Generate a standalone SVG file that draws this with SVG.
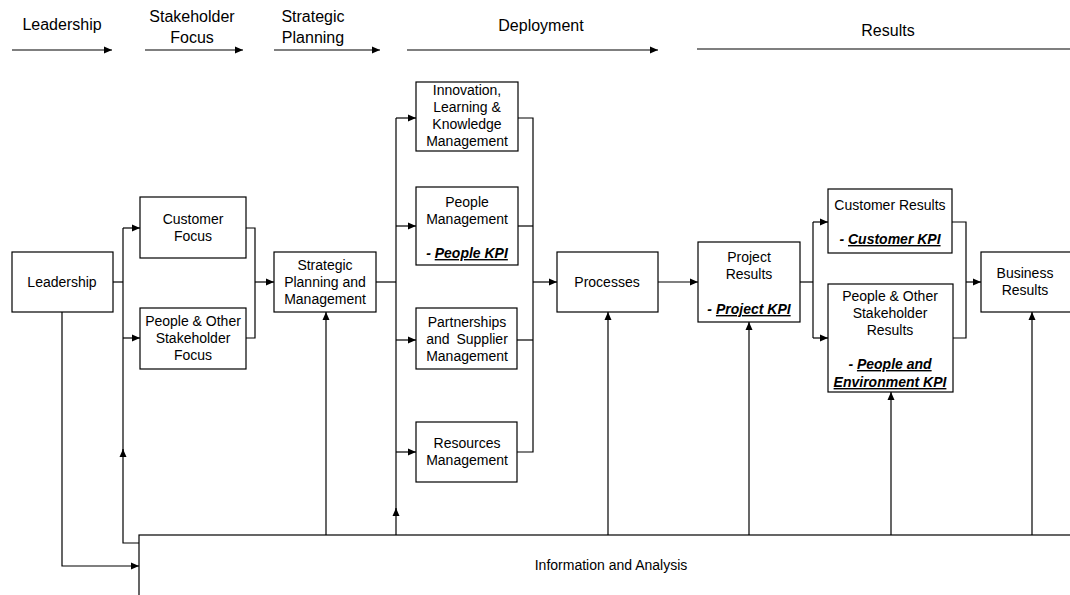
<svg xmlns="http://www.w3.org/2000/svg" width="1070" height="595" viewBox="0 0 1070 595">
<defs>
<marker id="ah" markerUnits="userSpaceOnUse" markerWidth="9" markerHeight="8" refX="8" refY="4" orient="auto">
<path d="M0,0.5 L8,4 L0,7.5 z" fill="#000"/>
</marker>
<style>
.box{fill:#fff;stroke:#000;stroke-width:1.2}
.t{font-family:"Liberation Sans",Arial,sans-serif;font-size:14px;fill:#000;text-anchor:middle}
.h{font-family:"Liberation Sans",Arial,sans-serif;font-size:16px;fill:#000;text-anchor:middle}
.k{font-weight:bold;font-style:italic}
.u{text-decoration:underline}
.c{fill:none;stroke:#000;stroke-width:1.2}
.a{fill:none;stroke:#000;stroke-width:1.2;marker-end:url(#ah)}
</style>
</defs>
<rect width="1070" height="595" fill="#fff"/>

<g id="header">
<text class="h" x="62" y="30">Leadership</text>
<text class="h" x="192" y="22">Stakeholder</text>
<text class="h" x="192" y="43">Focus</text>
<text class="h" x="313" y="22">Strategic</text>
<text class="h" x="313" y="43">Planning</text>
<text class="h" x="541" y="31">Deployment</text>
<text class="h" x="888" y="36">Results</text>
<path class="a" d="M12,50 H112"/>
<path class="a" d="M145,50 H243"/>
<path class="a" d="M274,50 H380"/>
<path class="a" d="M407,50 H658"/>
<path class="c" d="M697,49 H1070"/>
</g>

<g id="connectors">
<path class="c" d="M113,282 H123"/>
<path class="c" d="M123,455 V228"/>
<path class="a" d="M139,543 H123 V449"/>
<path class="a" d="M123,228 H140"/>
<path class="a" d="M123,338 H140"/>
<path class="a" d="M62,312 V566 H139"/>
<path class="c" d="M246,228 H255 V338 H246"/>
<path class="a" d="M255,282 H274"/>
<path class="a" d="M326,535 V312"/>
<path class="c" d="M376,282 H396"/>
<path class="c" d="M396,514 V118"/>
<path class="a" d="M396,535 V508"/>
<path class="a" d="M396,118 H416"/>
<path class="a" d="M396,226 H416"/>
<path class="a" d="M396,340 H416"/>
<path class="a" d="M396,452 H416"/>
<path class="c" d="M518,118 H533 V452 H517"/>
<path class="c" d="M518,226 H533"/>
<path class="c" d="M517,340 H533"/>
<path class="a" d="M533,282 H557"/>
<path class="a" d="M608,535 V312"/>
<path class="a" d="M658,282 H698"/>
<path class="a" d="M749,535 V322"/>
<path class="c" d="M800,282 H813"/>
<path class="c" d="M813,222 V338"/>
<path class="a" d="M813,222 H828"/>
<path class="a" d="M813,338 H828"/>
<path class="c" d="M952,222 H966 V338 H953"/>
<path class="a" d="M966,282 H981"/>
<path class="a" d="M891,535 V392"/>
<path class="a" d="M1032,535 V312"/>
</g>

<g id="leadership">
<rect class="box" x="12" y="252" width="101" height="60"/>
<text class="t" x="62" y="287">Leadership</text>
</g>
<g id="customer-focus">
<rect class="box" x="140" y="197" width="106" height="61"/>
<text class="t" x="193" y="224">Customer</text>
<text class="t" x="193" y="241">Focus</text>
</g>
<g id="people-focus">
<rect class="box" x="140" y="308" width="106" height="61"/>
<text class="t" x="193" y="326">People &amp; Other</text>
<text class="t" x="193" y="343">Stakeholder</text>
<text class="t" x="193" y="360">Focus</text>
</g>
<g id="strategic">
<rect class="box" x="274" y="252" width="102" height="60"/>
<text class="t" x="325" y="270">Strategic</text>
<text class="t" x="325" y="287">Planning and</text>
<text class="t" x="325" y="304">Management</text>
</g>
<g id="innovation">
<rect class="box" x="416" y="82" width="102" height="69"/>
<text class="t" x="467" y="95">Innovation,</text>
<text class="t" x="467" y="112">Learning &amp;</text>
<text class="t" x="467" y="129">Knowledge</text>
<text class="t" x="467" y="146">Management</text>
</g>
<g id="people-mgmt">
<rect class="box" x="416" y="187" width="102" height="78"/>
<text class="t" x="467" y="207">People</text>
<text class="t" x="467" y="224">Management</text>
<text class="t k" x="467" y="258">- <tspan class="u">People KPI</tspan></text>
</g>
<g id="partnerships">
<rect class="box" x="416" y="308" width="101" height="61"/>
<text class="t" x="467" y="327">Partnerships</text>
<text class="t" x="467" y="344" word-spacing="3">and Supplier</text>
<text class="t" x="467" y="361">Management</text>
</g>
<g id="resources">
<rect class="box" x="416" y="422" width="101" height="60"/>
<text class="t" x="467" y="448">Resources</text>
<text class="t" x="467" y="465">Management</text>
</g>
<g id="processes">
<rect class="box" x="557" y="252" width="101" height="60"/>
<text class="t" x="607" y="287">Processes</text>
</g>
<g id="project-results">
<rect class="box" x="698" y="242" width="102" height="80"/>
<text class="t" x="749" y="262">Project</text>
<text class="t" x="749" y="279">Results</text>
<text class="t k" x="749" y="314">- <tspan class="u">Project KPI</tspan></text>
</g>
<g id="customer-results">
<rect class="box" x="828" y="189" width="124" height="64"/>
<text class="t" x="890" y="210">Customer Results</text>
<text class="t k" x="890" y="244">- <tspan class="u">Customer KPI</tspan></text>
</g>
<g id="people-results">
<rect class="box" x="828" y="284" width="125" height="108"/>
<text class="t" x="890" y="301">People &amp; Other</text>
<text class="t" x="890" y="318">Stakeholder</text>
<text class="t" x="890" y="335">Results</text>
<text class="t k" x="890" y="369">- <tspan class="u">People and</tspan></text>
<text class="t k u" x="890" y="387">Environment KPI</text>
</g>
<g id="business-results">
<rect class="box" x="981" y="252" width="95" height="60"/>
<text class="t" x="1025" y="278">Business</text>
<text class="t" x="1025" y="295">Results</text>
</g>
<g id="information">
<rect class="box" x="139" y="535" width="940" height="70"/>
<text class="t" x="611" y="570">Information and Analysis</text>
</g>
</svg>
